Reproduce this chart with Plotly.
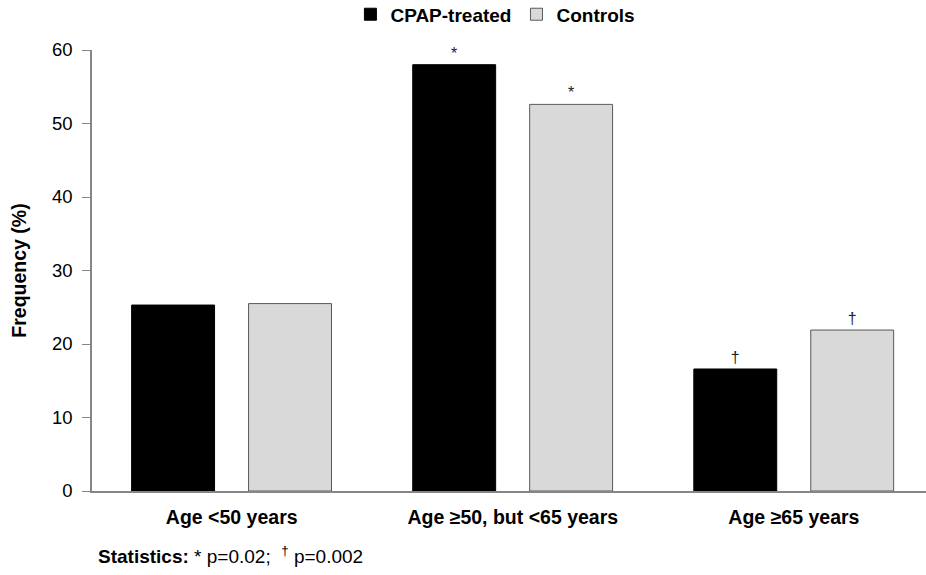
import plotly.graph_objects as go

categories = ["Age <50 years", "Age \u226550, but <65 years", "Age \u226565 years"]
cpap = [25.3, 58.0, 16.6]
controls = [25.5, 52.6, 21.9]
cpap_marks = [None, "*", "\u2020"]
ctrl_marks = [None, "*", "\u2020"]
series_names = ["CPAP-treated", "Controls"]

xs = list(range(len(categories)))
BW = 0.295

fig = go.Figure()
fig.add_trace(go.Bar(
    x=xs, y=cpap, name=series_names[0], width=BW, offset=-0.356,
    marker=dict(color="#000000", line=dict(color="#000000", width=1)),
    text=cpap_marks, textposition="outside", cliponaxis=False,
    textfont=dict(size=16, color="#222222", family="Liberation Sans"),
))
fig.add_trace(go.Bar(
    x=xs, y=controls, name=series_names[1], width=BW, offset=0.06,
    marker=dict(color="#d9d9d9", line=dict(color="#595959", width=1)),
    text=ctrl_marks, textposition="outside", cliponaxis=False,
    textfont=dict(size=16, color="#222222", family="Liberation Sans"),
))

fig.update_layout(
    width=926, height=575,
    margin=dict(l=92, r=0, t=50, b=84),
    plot_bgcolor="white", paper_bgcolor="white",
    barmode="overlay",
    font=dict(family="Liberation Sans, Arial", size=18, color="#000000"),
    showlegend=True,
    legend=dict(
        orientation="h", xref="container", yref="container",
        x=0.535, y=0.975, xanchor="center", yanchor="middle",
        font=dict(size=19, weight="bold", color="#000000"),
        itemwidth=30, traceorder="normal",
    ),
    xaxis=dict(
        range=[-0.497, 2.47], tickmode="array", tickvals=xs,
        ticktext=["<b>" + c + "</b>" for c in categories],
        showline=True, linecolor="#868686", linewidth=1.5,
        ticks="", showgrid=False, zeroline=False,
        tickfont=dict(size=19.5, color="#000000"),
        ticklabelstandoff=8,
    ),
    yaxis=dict(
        range=[0, 60], dtick=10, showline=True, linecolor="#868686", linewidth=1.5,
        ticks="outside", ticklen=8, tickcolor="#868686",
        showgrid=False, zeroline=False,
        tickfont=dict(size=18.5, color="#000000"),
        ticklabelstandoff=6,
        title=dict(text="<b>Frequency (%)</b>", font=dict(size=19.5), standoff=20),
    ),
    annotations=[dict(
        xref="paper", yref="paper", x=0.005, y=-0.145, xanchor="left", yanchor="middle",
        showarrow=False, align="left", font=dict(size=19, color="#000000"),
        text="<b>Statistics:</b> * p=0.02;  <sup>\u2020</sup> p=0.002",
    )],
)

fig.write_html("out.html")
